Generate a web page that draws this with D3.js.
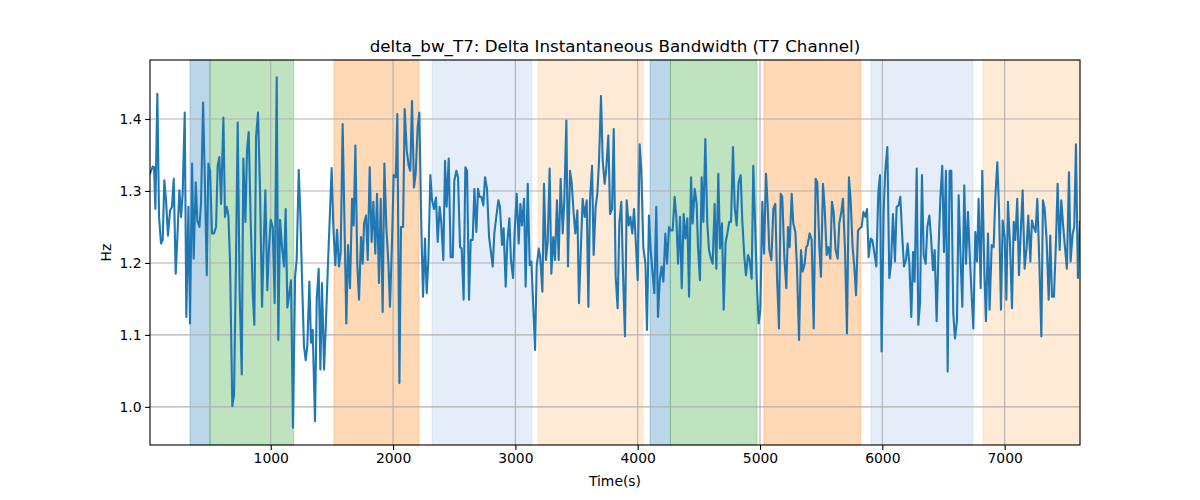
<!DOCTYPE html>
<html><head><meta charset="utf-8">
<script src="https://cdn.jsdelivr.net/npm/d3@7/dist/d3.min.js"></script>
<style>body{margin:0;background:#fff}svg{display:block}text{font-family:"DejaVu Sans",sans-serif}</style>
</head><body><svg id="c" width="1200" height="500"></svg>
<script>
const title = "delta_bw_T7: Delta Instantaneous Bandwidth (T7 Channel)";
const xLabel = "Time(s)";
const yLabel = "Hz";
const xTicks = [1000,2000,3000,4000,5000,6000,7000];
const yTicks = [1.0,1.1,1.2,1.3,1.4];
const xRange = [13, 7616];
const yRange = [0.947, 1.482];

// shaded segments: [start, end, kind]
const segStart = [340, 504, 1517, 2319, 3185, 4101, 4267, 5032, 5907, 6823];
const segEnd   = [504, 1188, 2212, 3136, 4043, 4267, 4975, 5823, 6741, 7616];
const segKind  = ["a","b","c","d","e","a","b","c","d","e"];

const time = [13,35,46,57,73,87,103,117,130,144,160,177,193,207,223,237,253,267,280,297,310,327,340,357,370,387,400,417,430,447,463,477,490,504,520,536,553,566,580,594,613,626,640,654,667,686,700,716,730,746,763,776,793,806,820,836,853,866,880,896,
912,929,942,956,972,986,1000,1016,1032,1049,1062,1076,1092,1109,1122,1136,1152,1166,1182,1199,1212,1229,1242,1259,1272,1286,1299,1316,1329,1343,1362,1376,1392,1406,1419,1436,1452,1468,1485,1498,1512,1528,1542,1558,1572,1588,1605,1618,1632,1648,1665,1678,1692,1708,1722,
1738,1752,1763,1779,1793,1809,1825,1839,1855,1869,1885,1899,1915,1929,1945,1962,1975,1992,2005,2022,2035,2052,2065,2082,2095,2112,2128,2141,2155,2171,2185,2201,2215,2231,2245,2261,2275,2289,2305,2319,2335,2351,2365,2381,2395,2411,2425,2438,2455,2471,2488,2501,2518,2531,2548,2561,2577,2591,2605,2621,2635,2651,2665,2681,2695,
2706,2722,2738,2752,2768,2785,2798,2815,2828,2844,2861,2874,2891,2904,2921,2934,2951,2964,2981,2994,3011,3027,3041,3054,3071,3084,3101,3117,3131,3144,3161,3174,3191,3204,3221,3234,3250,3264,3280,3294,3310,3324,3340,3354,3370,3387,3400,3417,3430,3447,3460,3477,3490,3507,3520,3537,3550,3567,3583,3597,
3610,3627,3640,3656,3670,3684,3700,3714,3730,3744,3760,3774,3790,3804,3820,3836,3850,3866,3880,3896,3910,3926,3940,3956,3970,3986,4000,4016,4030,4046,4063,4076,4092,4106,4122,4136,4152,4166,4180,4196,4210,4226,4240,4256,4270,4286,4302,4316,4330,4346,4360,4376,4390,4406,4420,4436,4449,4466,4482,
4493,4509,4523,4537,4553,4569,4583,4599,4613,4629,4643,4659,4673,4689,4703,4719,4733,4749,4763,4779,4793,4809,4825,4842,4855,4872,4885,4902,4915,4932,4945,4962,4975,4989,5003,5019,5033,5049,5063,5076,5093,5109,5125,5139,5155,5169,5182,5199,5215,5229,5242,5259,5272,5289,5302,5319,5335,5349,5365,5378,
5389,5406,5422,5439,5455,5468,5485,5498,5515,5528,5545,5558,5575,5588,5602,5618,5635,5648,5665,5678,5695,5711,5727,5741,5757,5771,5785,5801,5815,5831,5845,5861,5875,5888,5905,5918,5934,5951,5967,5981,5994,6011,6024,6041,6057,6071,6087,6103,6117,6133,6147,6163,6177,6193,6207,6221,6237,6251,6264,6281,6294,
6308,6324,6338,6354,6368,6384,6398,6414,6428,6444,6460,6474,6490,6504,6520,6534,6550,6564,6580,6594,6610,6624,6640,6654,6670,6684,6700,6714,6730,6744,6760,6774,6787,6804,6817,6834,6847,6864,6877,6894,6910,6924,6940,6954,6970,6984,7000,7014,7027,7044,7060,7074,7087,7103,7117,7133,7147,7163,7180,
7193,7210,7223,7237,7253,7267,7283,7300,7313,7327,7343,7360,7373,7387,7403,7420,7433,7450,7463,7479,7493,7509,7526,7539,7556,7569,7583,7599,7616];

const bw = [1.324,1.334,1.333,1.275,1.435,1.264,1.227,1.232,1.315,1.287,1.238,1.273,1.278,1.317,1.185,1.236,1.301,1.264,1.296,1.409,1.125,1.278,1.116,1.338,1.206,1.312,1.259,1.250,1.282,1.423,1.301,1.183,1.338,1.328,1.241,1.241,1.250,1.335,1.347,1.282,1.402,1.264,1.278,1.266,1.204,1.001,1.017,1.204,1.395,1.158,1.045,1.345,1.257,1.356,1.382,1.259,1.158,1.114,1.375,1.409,
1.305,1.139,1.222,1.301,1.162,1.222,1.260,1.250,1.144,1.458,1.093,1.260,1.222,1.195,1.275,1.138,1.158,1.176,0.971,1.181,1.204,1.329,1.268,1.158,1.084,1.065,1.084,1.174,1.089,1.107,0.980,1.149,1.192,1.052,1.172,1.052,1.121,1.199,1.273,1.332,1.250,1.197,1.246,1.195,1.215,1.393,1.236,1.116,1.225,1.165,1.289,1.252,1.363,1.197,1.149,
1.236,1.199,1.255,1.266,1.204,1.333,1.229,1.285,1.213,1.296,1.172,1.289,1.132,1.338,1.250,1.199,1.139,1.232,1.322,1.319,1.407,1.033,1.250,1.250,1.414,1.356,1.335,1.328,1.425,1.305,1.324,1.388,1.409,1.250,1.153,1.234,1.158,1.204,1.322,1.287,1.275,1.291,1.229,1.278,1.255,1.204,1.342,1.278,1.345,1.208,1.208,1.315,1.328,1.319,1.222,1.220,1.149,1.333,1.328,1.149,1.232,1.232,1.303,1.243,1.303,
1.292,1.292,1.280,1.319,1.303,1.236,1.218,1.195,1.241,1.264,1.287,1.278,1.225,1.248,1.167,1.229,1.262,1.204,1.179,1.243,1.296,1.227,1.282,1.252,1.289,1.167,1.310,1.197,1.202,1.149,1.079,1.195,1.220,1.206,1.160,1.310,1.204,1.229,1.331,1.185,1.236,1.204,1.287,1.204,1.317,1.241,1.287,1.398,1.195,1.328,1.312,1.268,1.241,1.273,1.144,1.227,1.289,1.264,1.287,1.139,
1.287,1.335,1.211,1.278,1.296,1.342,1.432,1.342,1.310,1.333,1.377,1.268,1.275,1.386,1.181,1.137,1.255,1.285,1.185,1.098,1.287,1.252,1.264,1.241,1.275,1.225,1.176,1.365,1.328,1.222,1.199,1.107,1.266,1.218,1.185,1.158,1.278,1.125,1.176,1.195,1.174,1.241,1.199,1.250,1.245,1.245,1.292,1.264,1.199,1.264,1.165,1.268,1.234,1.262,1.153,1.319,1.255,1.303,1.282,
1.222,1.176,1.319,1.257,1.372,1.255,1.218,1.206,1.199,1.282,1.192,1.324,1.220,1.255,1.135,1.229,1.241,1.257,1.257,1.361,1.278,1.252,1.312,1.322,1.259,1.208,1.183,1.211,1.204,1.178,1.335,1.241,1.167,1.116,1.135,1.285,1.213,1.324,1.278,1.218,1.204,1.275,1.282,1.181,1.109,1.296,1.292,1.208,1.165,1.250,1.222,1.296,1.255,1.243,1.195,1.093,1.218,1.188,1.199,1.222,
1.225,1.241,1.232,1.109,1.317,1.312,1.222,1.181,1.310,1.278,1.211,1.222,1.206,1.285,1.271,1.218,1.206,1.255,1.271,1.289,1.218,1.102,1.319,1.287,1.222,1.195,1.155,1.245,1.248,1.250,1.271,1.264,1.275,1.208,1.234,1.232,1.215,1.195,1.298,1.322,1.077,1.273,1.328,1.361,1.179,1.199,1.268,1.202,1.278,1.280,1.292,1.236,1.195,1.204,1.227,1.199,1.125,1.215,1.174,1.331,1.114,
1.144,1.322,1.211,1.199,1.250,1.266,1.236,1.190,1.218,1.119,1.222,1.289,1.335,1.215,1.328,1.049,1.328,1.328,1.130,1.095,1.119,1.294,1.204,1.139,1.308,1.199,1.271,1.213,1.155,1.109,1.243,1.202,1.289,1.165,1.328,1.188,1.119,1.241,1.135,1.225,1.222,1.292,1.340,1.275,1.135,1.259,1.236,1.149,1.285,1.225,1.137,1.257,1.232,1.289,1.183,1.248,1.301,1.192,1.222,
1.266,1.202,1.259,1.250,1.243,1.289,1.204,1.098,1.287,1.275,1.232,1.149,1.238,1.153,1.153,1.232,1.310,1.218,1.287,1.250,1.222,1.192,1.326,1.202,1.241,1.250,1.365,1.179,1.257];

const W = 1200, H = 500;
const m = {l:150, r:120, t:60, b:55};
const iw = W - m.l - m.r, ih = H - m.t - m.b;
const svg = d3.select("#c");
const x = d3.scaleLinear().domain(xRange).range([m.l, m.l + iw]);
const y = d3.scaleLinear().domain(yRange).range([m.t + ih, m.t]);

const kindStyle = {
  a:{c:"#1f77b4", o:0.3},
  b:{c:"#2ca02c", o:0.3},
  c:{c:"#ff7f0e", o:0.3},
  d:{c:"#aec7e8", o:0.32},
  e:{c:"#ffbb78", o:0.3}
};
svg.append("defs").append("clipPath").attr("id","clip").append("rect")
  .attr("x", m.l).attr("y", m.t).attr("width", iw).attr("height", ih);

const segs = segStart.map((s,i)=>({s, e:segEnd[i], k:segKind[i]}));
svg.append("g").selectAll("rect").data(segs).join("rect")
  .attr("x", d=>x(d.s)).attr("width", d=>x(d.e)-x(d.s))
  .attr("y", m.t).attr("height", ih)
  .attr("fill", d=>kindStyle[d.k].c).attr("fill-opacity", d=>kindStyle[d.k].o)
  .attr("stroke", d=>kindStyle[d.k].c).attr("stroke-opacity", d=>kindStyle[d.k].o).attr("stroke-width",1);

// grid
const g = svg.append("g");
g.selectAll(".gx").data(xTicks).join("line")
  .attr("x1", d=>x(d)).attr("x2", d=>x(d)).attr("y1", m.t).attr("y2", m.t+ih)
  .attr("stroke", "#b0b0b0").attr("stroke-width", 1.1);
g.selectAll(".gy").data(yTicks).join("line")
  .attr("y1", d=>y(d)).attr("y2", d=>y(d)).attr("x1", m.l).attr("x2", m.l+iw)
  .attr("stroke", "#b0b0b0").attr("stroke-width", 1.1);

// line
const pts = time.map((t,i)=>[t, bw[i]]);
svg.append("path").datum(pts)
  .attr("clip-path","url(#clip)")
  .attr("fill","none").attr("stroke","#1f77b4").attr("stroke-width",2.1)
  .attr("stroke-linejoin","round").attr("stroke-linecap","square")
  .attr("d", d3.line().x(d=>x(d[0])).y(d=>y(d[1])));

// axes
const xa = svg.append("g").attr("transform", `translate(0,${m.t+ih})`)
  .call(d3.axisBottom(x).tickValues(xTicks).tickFormat(d3.format("d")).tickSizeOuter(0).tickSize(4.9).tickPadding(3.5));
const ya = svg.append("g").attr("transform", `translate(${m.l},0)`)
  .call(d3.axisLeft(y).tickValues(yTicks).tickFormat(d3.format(".1f")).tickSizeOuter(0).tickSize(4.9).tickPadding(3.5));
[xa, ya].forEach(a=>{
  a.select(".domain").remove();
  a.selectAll("text").attr("font-size", "13.9px").attr("fill","#000").attr("font-family","DejaVu Sans");
  a.selectAll("line").attr("stroke","#000").attr("stroke-width",1.1);
});
svg.append("rect").attr("x", m.l).attr("y", m.t).attr("width", iw).attr("height", ih)
  .attr("fill","none").attr("stroke","#000").attr("stroke-width",1.1);

svg.append("text").attr("x", m.l+iw/2).attr("y", 52).attr("text-anchor","middle")
  .attr("font-size","16.7px").text(title);
svg.append("text").attr("x", m.l+iw/2).attr("y", 486).attr("text-anchor","middle")
  .attr("font-size","13.9px").text(xLabel);
svg.append("text").attr("transform", `translate(111,${m.t+ih/2}) rotate(-90)`).attr("text-anchor","middle")
  .attr("font-size","13.9px").text(yLabel);
</script></body></html>
